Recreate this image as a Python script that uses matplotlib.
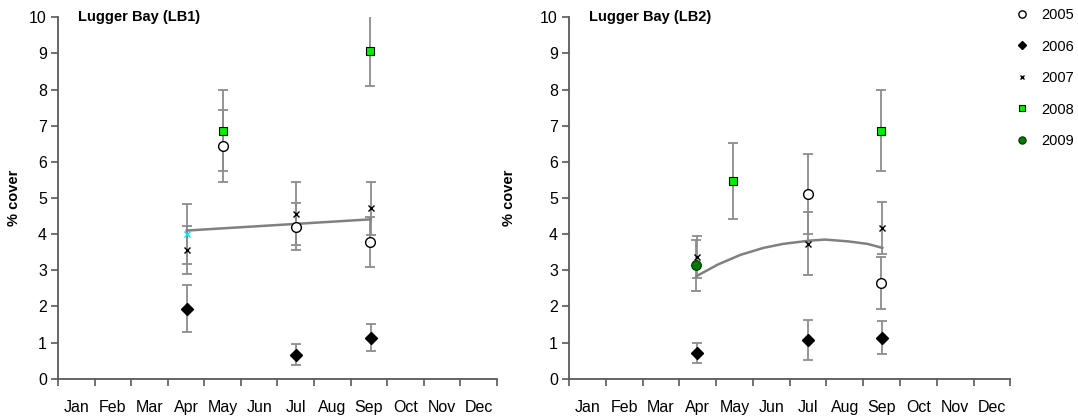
import matplotlib.pyplot as plt
import numpy as np

plt.rcParams["font.family"] = ["Liberation Sans", "DejaVu Sans"]

months = ["Jan", "Feb", "Mar", "Apr", "May", "Jun",
          "Jul", "Aug", "Sep", "Oct", "Nov", "Dec"]

# x positions are in months from 1 Jan (3.5 = mid April)
# --- Lugger Bay (LB1) ---
lb1_2005_x = [4.50, 6.51, 8.53]
lb1_2005_y = [6.44, 4.21, 3.78]
lb1_2005_err = [1.00, 0.66, 0.70]

lb1_2006_x = [3.52, 6.51, 8.55]
lb1_2006_y = [1.94, 0.67, 1.14]
lb1_2006_err = [0.65, 0.28, 0.37]

lb1_2007_x = [3.52, 6.52, 8.56]
lb1_2007_y = [3.56, 4.57, 4.71]
lb1_2007_err = [0.67, 0.88, 0.72]

lb1_2008_x = [4.50, 8.53]
lb1_2008_y = [6.86, 9.07]
lb1_2008_err = [1.12, 0.97]

lb1_2009_x = [3.52]
lb1_2009_y = [4.00]
lb1_2009_err = [0.83]

lb1_trend_x = [3.52, 8.55]
lb1_trend_y = [4.10, 4.41]

# --- Lugger Bay (LB2) ---
lb2_2005_x = [6.51, 8.48]
lb2_2005_y = [5.11, 2.66]
lb2_2005_err = [1.11, 0.72]

lb2_2006_x = [3.47, 6.51, 8.50]
lb2_2006_y = [0.71, 1.07, 1.14]
lb2_2006_err = [0.28, 0.56, 0.46]

lb2_2007_x = [3.47, 6.51, 8.50]
lb2_2007_y = [3.37, 3.73, 4.17]
lb2_2007_err = [0.59, 0.87, 0.71]

lb2_2008_x = [4.45, 8.48]
lb2_2008_y = [5.46, 6.86]
lb2_2008_err = [1.05, 1.12]

lb2_2009_x = [3.45]
lb2_2009_y = [3.14]
lb2_2009_err = [0.70]

lb2_trend_x = [3.47, 4.05, 4.67, 5.29, 5.82, 6.53, 6.97, 7.59, 8.12, 8.52]
lb2_trend_y = [2.84, 3.16, 3.43, 3.62, 3.73, 3.82, 3.85, 3.80, 3.73, 3.62]

axis_col = "#595959"
err_col = "#8c8c8c"

styles = {
    "2005": dict(marker="o", ms=7, mfc="white", mec="black", mew=1.0),
    "2006": dict(marker="D", ms=6, mfc="black", mec="black", mew=1.0),
    "2007": dict(marker="x", ms=4.5, mfc="black", mec="black", mew=1.0),
    "2008": dict(marker="s", ms=5.5, mfc="#00ee00", mec="black", mew=0.8),
    "2009": dict(marker="o", ms=7, mfc="#007a00", mec="#003300", mew=0.8),
}

fig = plt.figure(figsize=(10.78, 4.17), dpi=100)
ax1 = fig.add_axes([0.0538, 0.0918, 0.4072, 0.8667])
ax2 = fig.add_axes([0.5278, 0.0918, 0.4094, 0.8667])


def draw_series(ax, x, y, err, key, **override):
    st = dict(styles[key])
    st.update(override)
    ax.errorbar(x, y, yerr=err, fmt="none", ecolor=err_col, elinewidth=1.3,
                capsize=3.5, capthick=1.3, zorder=2)
    ax.plot(x, y, ls="none", zorder=4, label=key, **st)


draw_series(ax1, lb1_2005_x, lb1_2005_y, lb1_2005_err, "2005")
draw_series(ax1, lb1_2006_x, lb1_2006_y, lb1_2006_err, "2006")
draw_series(ax1, lb1_2007_x, lb1_2007_y, lb1_2007_err, "2007")
draw_series(ax1, lb1_2008_x, lb1_2008_y, lb1_2008_err, "2008")
draw_series(ax1, lb1_2009_x, lb1_2009_y, lb1_2009_err, "2007",
            mec="#00e5e5", mfc="#00e5e5")
ax1.plot(lb1_trend_x, lb1_trend_y, color="#808080", lw=1.8, zorder=3)

draw_series(ax2, lb2_2005_x, lb2_2005_y, lb2_2005_err, "2005")
draw_series(ax2, lb2_2006_x, lb2_2006_y, lb2_2006_err, "2006")
draw_series(ax2, lb2_2007_x, lb2_2007_y, lb2_2007_err, "2007")
draw_series(ax2, lb2_2008_x, lb2_2008_y, lb2_2008_err, "2008")
draw_series(ax2, lb2_2009_x, lb2_2009_y, lb2_2009_err, "2009")
ax2.plot(lb2_trend_x, lb2_trend_y, color="#808080", lw=1.8, zorder=3)

for ax, title, ylab_x in [(ax1, "Lugger Bay (LB1)", -0.084),
                          (ax2, "Lugger Bay (LB2)", -0.120)]:
    ax.set_xlim(0, 12)
    ax.set_ylim(0, 10)
    ax.set_yticks(np.arange(0, 11, 1))
    ax.set_xticks(np.arange(0, 13, 1))
    ax.set_xticklabels([])
    ax.set_xticks(np.arange(0.5, 12, 1), minor=True)
    ax.set_xticklabels(months, minor=True, fontsize=11.5)
    ax.tick_params(axis="x", which="minor", length=0, pad=15)
    ax.tick_params(axis="x", which="major", length=5, width=1.2, color=axis_col)
    ax.tick_params(axis="y", length=5, width=1.2, color=axis_col,
                   labelsize=11.5, pad=3)
    for s in ["top", "right"]:
        ax.spines[s].set_visible(False)
    for s in ["left", "bottom"]:
        ax.spines[s].set_color(axis_col)
        ax.spines[s].set_linewidth(1.3)
    ax.set_ylabel("% cover", fontsize=10.5, fontweight="bold")
    ax.yaxis.set_label_coords(ylab_x, 0.5)
    ax.text(0.045, 1.0, title, transform=ax.transAxes, fontsize=10.5,
            fontweight="bold", va="center", ha="left")

handles, labels = ax2.get_legend_handles_labels()
fig.legend(handles, labels, loc="upper left", bbox_to_anchor=(0.9396, 0.986),
           frameon=False, fontsize=10.5, handlelength=1.0, handletextpad=0.8,
           labelspacing=1.2, borderaxespad=0.0, borderpad=0.15,
           markerscale=0.75)

fig.savefig("out.png", dpi=100)
